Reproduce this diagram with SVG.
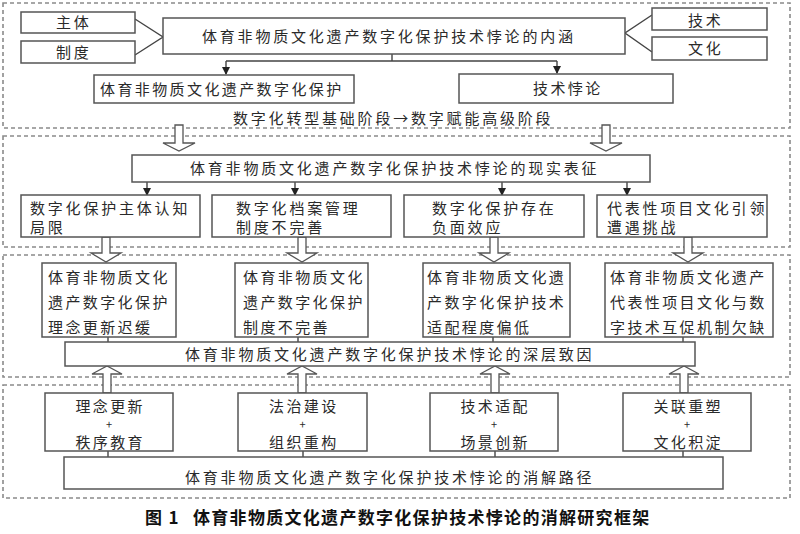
<svg xmlns="http://www.w3.org/2000/svg" width="800" height="534" viewBox="0 0 800 534">
<style>
.frame{fill:none;stroke:#8a8a8a;stroke-width:1.6;stroke-dasharray:4 3}
.box{fill:#fff;stroke:#555;stroke-width:1.5}
.ln{fill:none;stroke:#444;stroke-width:1.4}
.hollow{fill:#fff;stroke:#555;stroke-width:1.3}
text{font-family:"Noto Sans CJK SC","Noto Sans",sans-serif;font-size:15px;fill:#2a2a2a}
.t{letter-spacing:2.8px}
.s{letter-spacing:2.4px}
.plus{font-size:11px}
.cap{font-size:17px;font-weight:bold;letter-spacing:1.3px;fill:#111}
</style>
<defs>
<marker id="ah" markerWidth="8" markerHeight="8" refX="7" refY="4" orient="auto" markerUnits="userSpaceOnUse">
<path d="M0,0 L8,4 L0,8 z" fill="#222"/>
</marker>
</defs>
<rect width="800" height="534" fill="#fff"/>
<!-- dashed section frames -->
<g id="frames">
<rect class="frame" x="3" y="3" width="787" height="125"/>
<rect class="frame" x="3" y="136" width="787" height="111"/>
<rect class="frame" x="3" y="255" width="787" height="122"/>
<rect class="frame" x="3" y="385" width="787" height="113"/>
</g>
<!-- connectors -->
<g id="connectors">
<path class="ln" d="M135,19 L163,37 L135,55"/>
<path class="ln" d="M652,15 L625,33 L652,52"/>
<path class="ln" d="M392,54 V61 M226,61 H557"/>
<path class="ln" d="M226,61 V74" marker-end="url(#ah)"/>
<path class="ln" d="M557,61 V73" marker-end="url(#ah)"/>
<path class="ln" d="M147,182 V195" marker-end="url(#ah)"/>
<path class="ln" d="M295,182 V195" marker-end="url(#ah)"/>
<path class="ln" d="M502,182 V195" marker-end="url(#ah)"/>
<path class="ln" d="M627,182 V195" marker-end="url(#ah)"/>
<path class="ln" d="M108,337 V342 M298,337 V342 M493,337 V342 M683,337 V342"/>
<path class="ln" d="M108,451 V457 M303,451 V457 M495,451 V457 M683,451 V457"/>
<!-- hollow arrows down -->
<polygon class="hollow" points="175,125 183,125 183,143 195,143 179,151 163,143 175,143"/>
<polygon class="hollow" points="602,125 610,125 610,143 622,143 606,151 590,143 602,143"/>
<polygon class="hollow" points="102,237 110,237 110,253 121,253 106,262 91,253 102,253"/>
<polygon class="hollow" points="298,237 306,237 306,253 317,253 302,262 287,253 298,253"/>
<polygon class="hollow" points="490,237 498,237 498,253 509,253 494,262 479,253 490,253"/>
<polygon class="hollow" points="684,237 692,237 692,253 703,253 688,262 673,253 684,253"/>
<!-- hollow arrows up -->
<polygon class="hollow" points="103,393 111,393 111,374 122,374 107,366 92,374 103,374"/>
<polygon class="hollow" points="298,393 306,393 306,374 317,374 302,366 287,374 298,374"/>
<polygon class="hollow" points="491,393 499,393 499,374 510,374 495,366 480,374 491,374"/>
<polygon class="hollow" points="680,393 688,393 688,374 699,374 684,366 669,374 680,374"/>
</g>
<!-- section 1 -->
<g id="n-zhuti"><rect class="box" x="21" y="12" width="114" height="21"/><text class="t" x="56" y="28">主体</text></g>
<g id="n-zhidu"><rect class="box" x="21" y="41" width="114" height="22"/><text class="t" x="56" y="57.5">制度</text></g>
<g id="n-jishu"><rect class="box" x="652" y="8" width="115" height="22"/><text class="t" x="688" y="25.5">技术</text></g>
<g id="n-wenhua"><rect class="box" x="652" y="37" width="115" height="23"/><text class="t" x="688" y="53.5">文化</text></g>
<g id="n-neihan"><rect class="box" x="163" y="18" width="462" height="36"/><text class="t" x="202" y="41.5">体育非物质文化遗产数字化保护技术悖论的内涵</text></g>
<g id="n-baohu"><rect class="box" x="94" y="75" width="260" height="28"/><text class="s" x="100" y="94.5">体育非物质文化遗产数字化保护</text></g>
<g id="n-beilun"><rect class="box" x="459" y="74" width="214" height="29"/><text class="s" x="533" y="94">技术悖论</text></g>
<g id="n-stage"><text class="t" x="233" y="123.5">数字化转型基础阶段→数字赋能高级阶段</text></g>
<!-- section 2 -->
<g id="n-biaozheng"><rect class="box" x="132" y="155" width="518" height="27"/><text class="t" x="190" y="174">体育非物质文化遗产数字化保护技术悖论的现实表征</text></g>
<g id="n-b1"><rect class="box" x="21" y="195" width="179" height="42"/><text class="t" x="30" y="213.5">数字化保护主体认知</text><text class="t" x="30" y="232.5">局限</text></g>
<g id="n-b2"><rect class="box" x="212" y="195" width="179" height="42"/><text class="t" x="236" y="213.5">数字化档案管理</text><text class="t" x="236" y="232.5">制度不完善</text></g>
<g id="n-b3"><rect class="box" x="404" y="195" width="180" height="42"/><text class="t" x="432" y="213.5">数字化保护存在</text><text class="t" x="432" y="232.5">负面效应</text></g>
<g id="n-b4"><rect class="box" x="597" y="195" width="170" height="42"/><text class="t" x="607" y="213.5">代表性项目文化引领</text><text class="t" x="607" y="232.5">遭遇挑战</text></g>
<!-- section 3 -->
<g id="n-c1"><rect class="box" x="42" y="263" width="134" height="74"/><text class="s" x="48" y="282.5">体育非物质文化</text><text class="s" x="48" y="308">遗产数字化保护</text><text class="s" x="48" y="332.5">理念更新迟缓</text></g>
<g id="n-c2"><rect class="box" x="235" y="263" width="133" height="74"/><text class="s" x="243" y="282.5">体育非物质文化</text><text class="s" x="243" y="308">遗产数字化保护</text><text class="s" x="243" y="332.5">制度不完善</text></g>
<g id="n-c3"><rect class="box" x="423" y="263" width="147" height="74"/><text class="s" x="427" y="282.5">体育非物质文化遗</text><text class="s" x="427" y="308">产数字化保护技术</text><text class="s" x="427" y="332.5">适配程度偏低</text></g>
<g id="n-c4"><rect class="box" x="605" y="263" width="168" height="74"/><text class="s" x="610" y="282.5">体育非物质文化遗产</text><text class="s" x="610" y="308">代表性项目文化与数</text><text class="s" x="610" y="332.5">字技术互促机制欠缺</text></g>
<g id="n-zhiyin"><rect class="box" x="65" y="342" width="630" height="24"/><text class="t" x="185" y="360">体育非物质文化遗产数字化保护技术悖论的深层致因</text></g>
<!-- section 4 -->
<g id="n-d1"><rect class="box" x="45" y="393" width="128" height="58"/><text class="s" x="75.4" y="412">理念更新</text><text class="plus" x="109" y="429" text-anchor="middle">+</text><text class="s" x="75.4" y="448">秩序教育</text></g>
<g id="n-d2"><rect class="box" x="238" y="393" width="129" height="58"/><text class="s" x="269" y="412">法治建设</text><text class="plus" x="302.5" y="429" text-anchor="middle">+</text><text class="s" x="269" y="448">组织重构</text></g>
<g id="n-d3"><rect class="box" x="430" y="393" width="128" height="58"/><text class="s" x="460.4" y="412">技术适配</text><text class="plus" x="494" y="429" text-anchor="middle">+</text><text class="s" x="460.4" y="448">场景创新</text></g>
<g id="n-d4"><rect class="box" x="623" y="393" width="128" height="58"/><text class="s" x="653.4" y="412">关联重塑</text><text class="plus" x="687" y="429" text-anchor="middle">+</text><text class="s" x="653.4" y="448">文化积淀</text></g>
<g id="n-lujing"><rect class="box" x="64" y="457" width="659" height="32"/><text class="t" x="185" y="482.5">体育非物质文化遗产数字化保护技术悖论的消解路径</text></g>
<!-- caption -->
<g id="caption"><text class="cap" x="145" y="524">图 1</text><text class="cap" x="193" y="524">体育非物质文化遗产数字化保护技术悖论的消解研究框架</text></g>
</svg>
